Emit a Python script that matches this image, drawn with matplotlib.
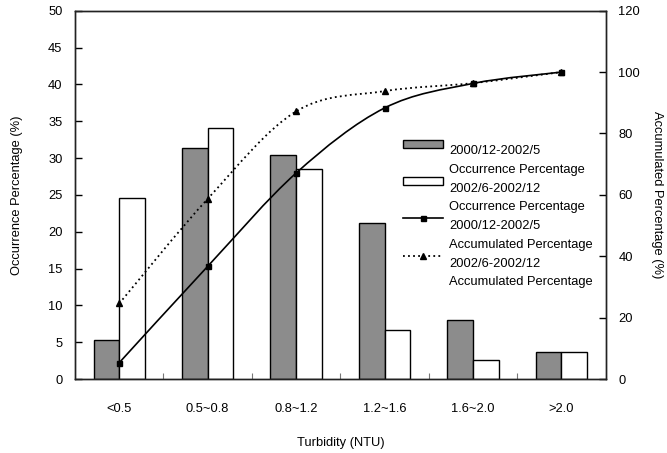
import numpy as np
import matplotlib
matplotlib.use("Agg")
import matplotlib.pyplot as plt
from matplotlib.path import Path
from matplotlib.patches import PathPatch, Patch
from matplotlib.lines import Line2D
from matplotlib.legend_handler import HandlerPatch, HandlerLine2D

plt.rcParams["font.family"] = ["Liberation Sans", "DejaVu Sans"]
plt.rcParams["font.size"] = 9.3

categories = ["<0.5", "0.5~0.8", "0.8~1.2", "1.2~1.6", "1.6~2.0", ">2.0"]
occ_early = [5.3, 31.4, 30.4, 21.2, 8.0, 3.7]      # 2000/12-2002/5
occ_late = [24.6, 34.1, 28.5, 6.6, 2.6, 3.6]       # 2002/6-2002/12
acc_early = [5.3, 36.7, 67.1, 88.3, 96.3, 100.0]
acc_late = [24.6, 58.7, 87.2, 93.8, 96.4, 100.0]

period_early = "2000/12-2002/5"
period_late = "2002/6-2002/12"

GRAY = "#8c8c8c"


def smooth_path(xs, ys):
    # Catmull-Rom style bezier through the points (like a "smoothed line")
    pts = np.column_stack([xs, ys]).astype(float)
    n = len(pts)
    verts = [pts[0]]
    codes = [Path.MOVETO]
    for i in range(n - 1):
        p0 = pts[max(i - 1, 0)]
        p1 = pts[i]
        p2 = pts[i + 1]
        p3 = pts[min(i + 2, n - 1)]
        verts += [p1 + (p2 - p0) / 6, p2 - (p3 - p1) / 6, p2]
        codes += [Path.CURVE4] * 3
    return Path(verts, codes)


class RaisedPatch(HandlerPatch):
    def create_artists(self, legend, orig_handle, xdescent, ydescent,
                       width, height, fontsize, trans):
        return super().create_artists(legend, orig_handle, xdescent,
                                      ydescent - 0.5 * fontsize, width,
                                      height * 0.85, fontsize, trans)


class RaisedLine(HandlerLine2D):
    def create_artists(self, legend, orig_handle, xdescent, ydescent,
                       width, height, fontsize, trans):
        return super().create_artists(legend, orig_handle, xdescent,
                                      ydescent - 0.95 * fontsize, width,
                                      height, fontsize, trans)


fig = plt.figure(figsize=(6.67, 4.53), dpi=100)
ax = fig.add_axes([75 / 667, 74 / 453, 530.7 / 667, 368.3 / 453])
ax2 = ax.twinx()

x = np.arange(len(categories))
w = 0.29
ax.bar(x - w / 2, occ_early, w, color=GRAY, edgecolor="black", linewidth=1.0)
ax.bar(x + w / 2, occ_late, w, color="white", edgecolor="black", linewidth=1.0)

ax.set_xlim(-0.5, len(categories) - 0.5)
ax.set_ylim(0, 50)
ax.set_yticks(np.arange(0, 51, 5))
ax.set_xticks(x)
ax.set_xticklabels(categories)
ax.set_xticks(np.arange(0.5, len(categories) - 0.5, 1), minor=True)
ax.tick_params(axis="x", which="major", length=0, pad=17)
ax.tick_params(axis="x", which="minor", direction="in", length=4, width=0.8,
               color="#777777")
ax.tick_params(axis="y", direction="in", length=5, width=1, pad=9)

# accumulated curves on the right axis
ax2.add_patch(PathPatch(smooth_path(x, acc_early), fill=False,
                        edgecolor="black", linewidth=1.2))
ax2.plot(x, acc_early, linestyle="none", marker="s", markersize=3.6,
         color="black")
ax2.add_patch(PathPatch(smooth_path(x, acc_late), fill=False,
                        edgecolor="black", linewidth=1.3,
                        linestyle=(0, (1, 1.8))))
ax2.plot(x, acc_late, linestyle="none", marker="^", markersize=4.2,
         color="black")
ax2.set_ylim(0, 120)
ax2.set_yticks(np.arange(0, 121, 20))
ax2.tick_params(axis="y", direction="in", length=5, width=1, pad=9)

for a in (ax, ax2):
    for s in a.spines.values():
        s.set_linewidth(1.0)
        s.set_color("#222222")

ax.set_xlabel("Turbidity (NTU)")
ax.xaxis.set_label_coords(0.5, -0.157)
ax.set_ylabel("Occurrence Percentage (%)")
ax.yaxis.set_label_coords(-0.098, 0.5)
ax2.set_ylabel("Accumulated Percentage (%)", rotation=270, va="bottom",
               ha="center", rotation_mode="anchor")
ax2.yaxis.set_label_coords(1.085, 0.5)

blank = Line2D([], [], linestyle="none")
h_gray = Patch(facecolor=GRAY, edgecolor="black", linewidth=1.0)
h_white = Patch(facecolor="white", edgecolor="black", linewidth=1.0)
h_solid = Line2D([], [], color="black", linewidth=1.2, marker="s",
                 markersize=3.6)
h_dot = Line2D([], [], color="black", linewidth=1.3, linestyle=(0, (1, 1.8)),
               marker="^", markersize=4.2)
handles = [h_gray, blank, h_white, blank, h_solid, blank, h_dot, blank]
labels = [period_early, "Occurrence Percentage",
          period_late, "Occurrence Percentage",
          period_early, "Accumulated Percentage",
          period_late, "Accumulated Percentage"]
leg = ax2.legend(handles, labels, loc="upper left",
                 bbox_to_anchor=((403 - 75) / 530.7, (379 - 145) / 368.3),
                 frameon=False, borderpad=0, borderaxespad=0,
                 handlelength=3.1, handletextpad=0.45, labelspacing=0.52,
                 numpoints=1,
                 handler_map={Patch: RaisedPatch(), Line2D: RaisedLine()})

fig.savefig("out.png", dpi=100)
